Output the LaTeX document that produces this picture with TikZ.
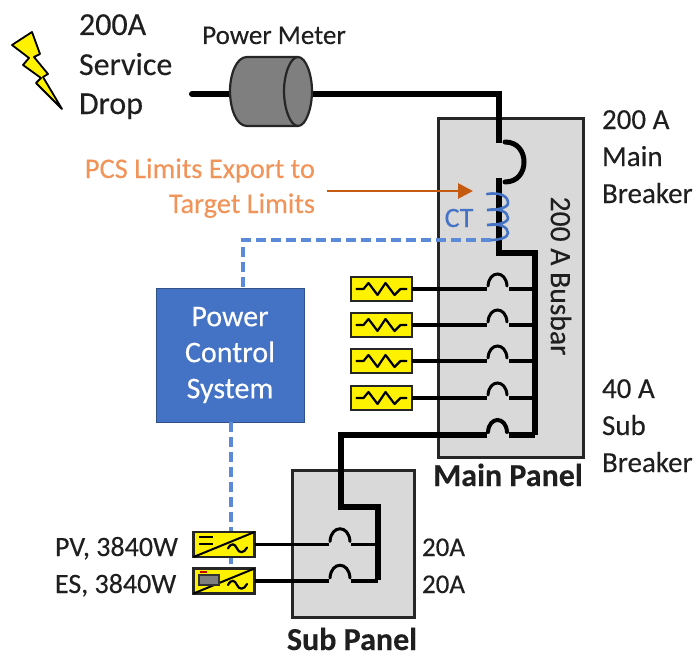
\documentclass[tikz,border=0pt]{standalone}
\usepackage{fontspec}
\setmainfont{Carlito}[FakeBold=0.25]
\usetikzlibrary{arrows.meta,calc}
\definecolor{panelgrey}{HTML}{D9D9D9}
\definecolor{pcsblue}{HTML}{4472C4}
\definecolor{dashblue}{HTML}{5B8BD8}
\definecolor{arroworange}{HTML}{C55A11}
\definecolor{textorange}{HTML}{F0945A}
\definecolor{txt}{HTML}{1F1F1F}
\definecolor{metergrey}{HTML}{7F7F7F}
\tikzset{
  panel/.style={draw=black!85,fill=panelgrey,line width=3pt,inner sep=0pt,outer sep=0pt},
  yellowbox/.style={draw=black!85,fill=yellow,line width=2.2pt,minimum width=61pt,minimum height=24pt,inner sep=0pt,outer sep=0pt},
  thinwire/.style={line width=3.2pt,draw=black},
  thickwire/.style={line width=5.5pt,draw=black,line join=miter},
  arcwire/.style={line width=3pt,draw=black,line cap=round},
  ctl/.style={draw=dashblue,line width=3.5pt,dash pattern=on 10pt off 5pt},
  lab/.style={inner sep=0pt,outer sep=0pt,text=txt,font=\fontsize{29}{31}\selectfont,anchor=base west},
  zig/.style={line width=2.2pt,draw=black,line join=round,line cap=round},
}
\newcommand{\zigzag}[1]{\draw[zig] ($(#1)+(-25,0)$) -- ($(#1)+(-18,0)$) -- ($(#1)+(-13,-6)$) -- ($(#1)+(-4,6)$) -- ($(#1)+(4,-6)$) -- ($(#1)+(13,6)$) -- ($(#1)+(19,0)$) -- ($(#1)+(25,0)$);}
\newcommand{\breaker}[3]{% name, y, arc lw
  \coordinate (#1l) at (487,#2);
  \coordinate (#1r) at (509,#2);
  \draw[arcwire,line width=#3] (488,#2-3) .. controls (489,#2-19) and (506,#2-19) .. (507,#2-3);
}
\begin{document}
\begin{tikzpicture}[x=1pt,y=-1pt]
\useasboundingbox (0,0) rectangle (700,658);
% panels
\node[panel,minimum width=145pt,minimum height=339pt] (main) at (510.5,287.5) {};
\node[panel,minimum width=122pt,minimum height=147pt] (sub) at (353,543.5) {};
% service
\fill[yellow,draw=black,line width=1.8pt,line join=round]
 (12,45) -- (32,32) -- (40,54) -- (34,57) -- (48,74) -- (43,77) -- (62,109) -- (36,83) -- (41,78) -- (23,65) -- (29,58) -- cycle;
\node[lab,font=\fontsize{32}{34}\selectfont] (t200) at (79,35) {200A};
\node[lab,font=\fontsize{32}{34}\selectfont] (tserv) at (79,75) {Service};
\node[lab,font=\fontsize{32}{34}\selectfont] (tdrop) at (79,114) {Drop};
\node[lab,font=\fontsize{27}{29}\selectfont,anchor=base] (tmeter) at (274,44) {Power Meter};
% meter
\coordinate (svc) at (192,94);
\coordinate (tap) at (499,94);
\coordinate (brkT) at (499,143);
\coordinate (brkB) at (499,178);
\coordinate (busT) at (535,253);
\coordinate (busB) at (535,435);
\draw[line width=6pt,line cap=round] (svc) -- (229,94);
\draw[thickwire] (312,94) -- (tap) -- (brkT);
\draw[fill=metergrey,draw=black!85,line width=2.2pt] (298,57) -- (247,57) .. controls (236,57) and (230,75) .. (230,91) .. controls (230,108) and (236,126) .. (247,126) -- (298,126) .. controls (306,126) and (312,108) .. (312,91) .. controls (312,75) and (306,57) .. (298,57) -- cycle;
\draw[draw=black!85,line width=2.2pt] (298,57) .. controls (290,57) and (284,75) .. (284,91) .. controls (284,108) and (290,126) .. (298,126);
% main breaker
\draw[line width=5pt,line cap=round] (505,142) .. controls (518,142) and (524,152) .. (524,162) .. controls (524,172) and (518,182) .. (505,182);
% bus
\draw[thickwire] (brkB) -- (499,253) -- (busT) -- (busB);
% loads
\foreach \n/\y in {a/289,b/325,c/361,d/398}{
  \node[yellowbox] (load\n) at (381.5,\y) {};
  \zigzag{load\n}
  \breaker{br\n}{\y}{3pt}
  \draw[thinwire] (load\n.east) -- (br\n l);
  \draw[thinwire] (br\n r) -- (535,\y);
}
\breaker{bre}{435}{4pt}
\coordinate (jog) at (341,435);
\coordinate (subT) at (341,507);
\coordinate (subC) at (378,507);
\coordinate (subB) at (378,580);
\draw[thickwire] (brer) -- (busB);
\draw[thickwire] (brel) -- (jog) -- (subT) -- (subC) -- (subB);
% CT
\coordinate (ctEnd) at (491,240);
\draw[pcsblue,line width=2.6pt,line cap=round] (487,194) .. controls (500,192) and (508,196) .. (508,203) .. controls (508,208) and (497,210) .. (487,210) .. controls (500,208) and (508,212) .. (508,218) .. controls (508,223) and (497,225) .. (487,225) .. controls (500,223) and (508,227) .. (508,233) .. controls (508,238) and (498,240) .. (ctEnd);
\node[lab,text=pcsblue,font=\fontsize{28}{30}\selectfont,anchor=base] (tct) at (459,227) {CT};
% PCS
\node[draw=pcsblue!70!black,fill=pcsblue,line width=1pt,minimum width=148pt,minimum height=134pt,inner sep=0pt,outer sep=0pt,text=white,align=center,font=\fontsize{30}{36}\selectfont] (pcs) at (230,355) {Power\\Control\\System};
\coordinate (ctlA) at (243,240);
\draw[ctl] (ctEnd) -- (ctlA) -- (ctlA |- pcs.north);
\coordinate (ctlB) at (231,564);
\draw[ctl] (ctlB |- pcs.south) -- (ctlB);
% orange
\coordinate (oa) at (327,191);
\coordinate (ob) at (473,191);
\draw[arroworange,line width=2.8pt,-{Triangle[length=15pt,width=15pt]}] (oa) -- (ob);
\node[lab,text=textorange,font=\fontsize{28.4}{30}\selectfont,anchor=base east] (to1) at (315,178) {PCS Limits Export to};
\node[lab,text=textorange,font=\fontsize{28.4}{30}\selectfont,anchor=base east] (to2) at (315,213) {Target Limits};
% right labels
\node[lab] (l1) at (602,129) {200 A};
\node[lab] (l2) at (602,166) {Main};
\node[lab] (l3) at (602,203) {Breaker};
\node[lab] (l4) at (602,398) {40 A};
\node[lab] (l5) at (602,435) {Sub};
\node[lab] (l6) at (602,472) {Breaker};
\node[lab,font=\fontsize{29.6}{31}\selectfont,rotate=-90,anchor=center] (bb) at (561,276) {200 A Busbar};
\node[lab,font=\bfseries\fontsize{32}{34}\selectfont,anchor=base] (mp) at (508,486) {Main Panel};
\node[lab,font=\bfseries\fontsize{32}{34}\selectfont,anchor=base] (sp) at (352,650) {Sub Panel};
% inverters
\foreach \n/\y in {p/544.5,e/581}{
  \node[yellowbox,minimum height=25pt] (inv\n) at (224,\y) {};
  \draw[line width=2pt] (inv\n.south west) -- (inv\n.north east);
  \draw[line width=2.2pt,line cap=round] ($(inv\n)+(4,4)$) .. controls ($(inv\n)+(7,-2)$) and ($(inv\n)+(11,-1)$) .. ($(inv\n)+(13,4)$) .. controls ($(inv\n)+(15,9)$) and ($(inv\n)+(20,9)$) .. ($(inv\n)+(23,3)$);
  \coordinate (b\n l) at (329,\y);
  \coordinate (b\n r) at (351,\y);
  \draw[arcwire] (330,\y-3) .. controls (331,\y-20) and (349,\y-20) .. (350,\y-3);
  \draw[thinwire] (inv\n.east) -- (b\n l);
  \draw[thinwire] (b\n r) -- (378,\y);
}
\draw[line width=2pt] ($(invp)+(-25,-7.5)$) -- ++(14,0);
\draw[line width=2pt] ($(invp)+(-25,-1)$) -- ++(14,0);
\fill[red!80!black] ($(inve)+(-24,-10)$) rectangle ++(7,2);
\draw[fill=metergrey,draw=black!80,line width=1.4pt] ($(inve)+(-25,-6)$) rectangle ++(20,10);
\node[lab,font=\fontsize{28}{30}\selectfont] (pv) at (55,556) {PV, 3840W};
\node[lab,font=\fontsize{28}{30}\selectfont] (es) at (55,593) {ES, 3840W};
\node[lab,font=\fontsize{27}{29}\selectfont] (a1) at (422,556) {20A};
\node[lab,font=\fontsize{27}{29}\selectfont] (a2) at (422,593) {20A};
\end{tikzpicture}
\end{document}
